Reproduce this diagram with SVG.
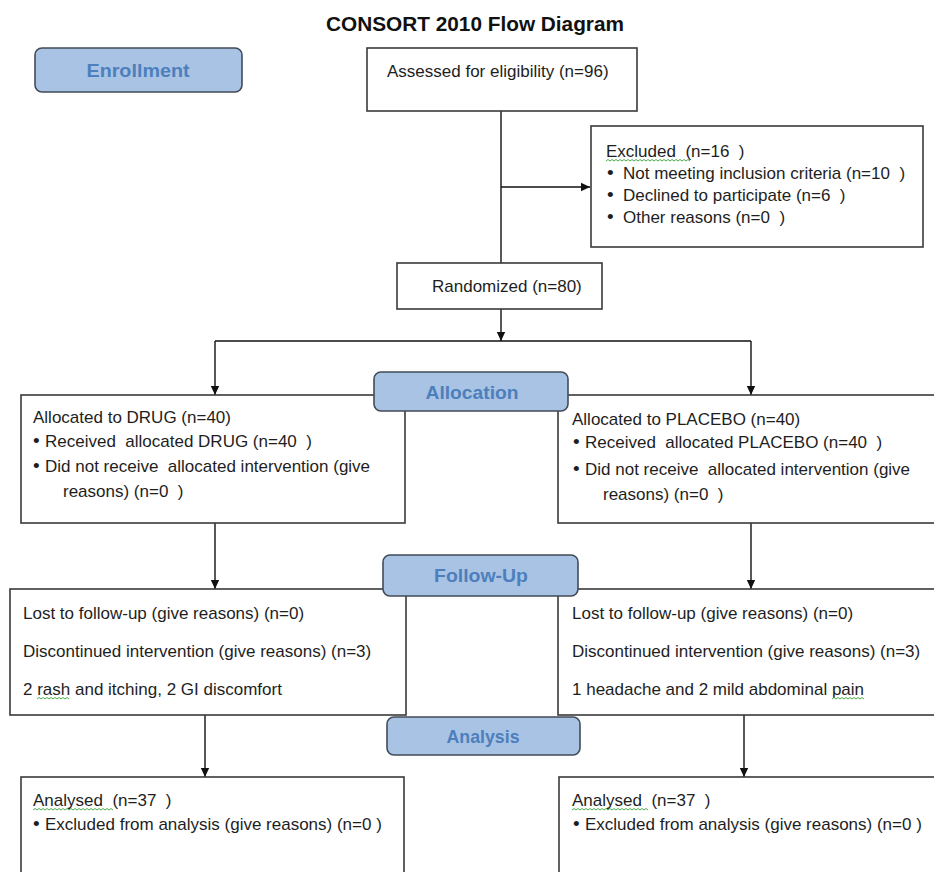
<svg xmlns="http://www.w3.org/2000/svg" width="934" height="872" viewBox="0 0 934 872">
<defs>
<style>
.box{fill:#fff;stroke:#3a3a3a;stroke-width:1.6}
.lab rect{fill:#a9c3e4;stroke:#424b57;stroke-width:1.6}
.lab text{font-family:"Liberation Sans",Arial,sans-serif;font-weight:bold;fill:#4d7fbc;text-anchor:middle}
.t{font-family:"Liberation Sans",Arial,sans-serif;font-size:17px;fill:#1e1e1e;white-space:pre}
.b{font-family:"Liberation Sans",Arial,sans-serif;font-size:19px;fill:#1e1e1e}
.c{stroke:#111;stroke-width:1.4;fill:none}
.sq{stroke:#4cae4c;stroke-width:1;fill:none}
</style>
<marker id="ah" markerWidth="10" markerHeight="10" refX="9" refY="5" orient="auto" markerUnits="userSpaceOnUse">
<path d="M0,0.8 L9,5 L0,9.2 Z" fill="#111"/>
</marker>
</defs>
<rect width="934" height="872" fill="#fff"/>
<text id="title" x="475" y="31" text-anchor="middle" font-family="'Liberation Sans',Arial,sans-serif" font-weight="bold" font-size="20" textLength="298" lengthAdjust="spacingAndGlyphs" fill="#111">CONSORT 2010 Flow Diagram</text>

<g id="connectors">
<line class="c" x1="501" y1="111" x2="501" y2="263" stroke="#444" stroke-width="1.6"/>
<line class="c" x1="501" y1="187" x2="590" y2="187" marker-end="url(#ah)"/>
<line class="c" x1="501" y1="309" x2="501" y2="341" marker-end="url(#ah)"/>
<line class="c" x1="215" y1="341" x2="751" y2="341"/>
<line class="c" x1="215" y1="341" x2="215" y2="395" marker-end="url(#ah)"/>
<line class="c" x1="751" y1="341" x2="751" y2="395" marker-end="url(#ah)"/>
<line class="c" x1="215" y1="523" x2="215" y2="589" marker-end="url(#ah)"/>
<line class="c" x1="751" y1="523" x2="751" y2="589" marker-end="url(#ah)"/>
<line class="c" x1="205" y1="715" x2="205" y2="777" marker-end="url(#ah)"/>
<line class="c" x1="744" y1="715" x2="744" y2="777" marker-end="url(#ah)"/>
</g>

<g id="assessed">
<rect class="box" x="367" y="48" width="270" height="63"/>
<text class="t" x="387" y="77">Assessed for eligibility (n=96)</text>
</g>

<g id="excluded">
<rect class="box" x="591" y="126" width="332" height="121"/>
<text class="t" x="606" y="157">Excluded  (n=16  )</text>
<text class="b" x="607" y="179">•</text>
<text class="t" x="623" y="179">Not meeting inclusion criteria (n=10  )</text>
<text class="b" x="607" y="201">•</text>
<text class="t" x="623" y="201">Declined to participate (n=6  )</text>
<text class="b" x="607" y="223">•</text>
<text class="t" x="623" y="223">Other reasons (n=0  )</text>
</g>

<g id="randomized">
<rect class="box" x="397" y="263" width="205" height="46"/>
<text class="t" x="432" y="292">Randomized (n=80)</text>
</g>

<g id="alloc-drug">
<rect class="box" x="21" y="395" width="384" height="128"/>
<text class="t" x="33" y="423">Allocated to DRUG (n=40)</text>
<text class="b" x="33" y="447">•</text>
<text class="t" x="45" y="447">Received  allocated DRUG (n=40  )</text>
<text class="b" x="33" y="472">•</text>
<text class="t" x="45" y="472">Did not receive  allocated intervention (give</text>
<text class="t" x="63" y="497">reasons) (n=0  )</text>
</g>

<g id="alloc-placebo">
<rect class="box" x="558" y="395" width="382" height="128"/>
<text class="t" x="572" y="425">Allocated to PLACEBO (n=40)</text>
<text class="b" x="573" y="448">•</text>
<text class="t" x="585" y="448">Received  allocated PLACEBO (n=40  )</text>
<text class="b" x="573" y="475">•</text>
<text class="t" x="585" y="475">Did not receive  allocated intervention (give</text>
<text class="t" x="603" y="500">reasons) (n=0  )</text>
</g>

<g id="followup-drug">
<rect class="box" x="10" y="589" width="396" height="126"/>
<text class="t" x="23" y="619">Lost to follow-up (give reasons) (n=0)</text>
<text class="t" x="23" y="657">Discontinued intervention (give reasons) (n=3)</text>
<text class="t" x="23" y="695">2 rash and itching, 2 GI discomfort</text>
</g>

<g id="followup-placebo">
<rect class="box" x="558" y="589" width="382" height="126"/>
<text class="t" x="572" y="619">Lost to follow-up (give reasons) (n=0)</text>
<text class="t" x="572" y="657">Discontinued intervention (give reasons) (n=3)</text>
<text class="t" x="572" y="695">1 headache and 2 mild abdominal pain</text>
</g>

<g id="analysis-drug">
<rect class="box" x="21" y="777" width="383" height="110"/>
<text class="t" x="33" y="806">Analysed  (n=37  )</text>
<text class="b" x="33" y="830">•</text>
<text class="t" x="45" y="830">Excluded from analysis (give reasons) (n=0 )</text>
</g>

<g id="analysis-placebo">
<rect class="box" x="559" y="777" width="381" height="110"/>
<text class="t" x="572" y="806">Analysed  (n=37  )</text>
<text class="b" x="573" y="830">•</text>
<text class="t" x="585" y="830">Excluded from analysis (give reasons) (n=0 )</text>
</g>

<g id="spellcheck">
<path class="sq" d="M606,161 l2,-1.5 l2,1.5 l2,-1.5 l2,1.5 l2,-1.5 l2,1.5 l2,-1.5 l2,1.5 l2,-1.5 l2,1.5 l2,-1.5 l2,1.5 l2,-1.5 l2,1.5 l2,-1.5 l2,1.5 l2,-1.5 l2,1.5 l2,-1.5 l2,1.5 l2,-1.5 l2,1.5 l2,-1.5 l2,1.5 l2,-1.5 l2,1.5 l2,-1.5 l2,1.5 l2,-1.5 l2,1.5 l2,-1.5 l2,1.5 l2,-1.5 l2,1.5 l2,-1.5 l2,1.5 l2,-1.5 l2,1.5 l2,-1.5 l2,1.5 l2,-1.5 l2,1.5"/>
<path class="sq" d="M37,699 l2,-1.5 l2,1.5 l2,-1.5 l2,1.5 l2,-1.5 l2,1.5 l2,-1.5 l2,1.5 l2,-1.5 l2,1.5 l2,-1.5 l2,1.5 l2,-1.5 l2,1.5 l2,-1.5 l2,1.5"/>
<path class="sq" d="M832,699 l2,-1.5 l2,1.5 l2,-1.5 l2,1.5 l2,-1.5 l2,1.5 l2,-1.5 l2,1.5 l2,-1.5 l2,1.5 l2,-1.5 l2,1.5 l2,-1.5 l2,1.5 l2,-1.5 l2,1.5"/>
<path class="sq" d="M33,810 l2,-1.5 l2,1.5 l2,-1.5 l2,1.5 l2,-1.5 l2,1.5 l2,-1.5 l2,1.5 l2,-1.5 l2,1.5 l2,-1.5 l2,1.5 l2,-1.5 l2,1.5 l2,-1.5 l2,1.5 l2,-1.5 l2,1.5 l2,-1.5 l2,1.5 l2,-1.5 l2,1.5 l2,-1.5 l2,1.5 l2,-1.5 l2,1.5 l2,-1.5 l2,1.5 l2,-1.5 l2,1.5 l2,-1.5 l2,1.5 l2,-1.5 l2,1.5 l2,-1.5 l2,1.5 l2,-1.5 l2,1.5 l2,-1.5 l2,1.5"/>
<path class="sq" d="M572,810 l2,-1.5 l2,1.5 l2,-1.5 l2,1.5 l2,-1.5 l2,1.5 l2,-1.5 l2,1.5 l2,-1.5 l2,1.5 l2,-1.5 l2,1.5 l2,-1.5 l2,1.5 l2,-1.5 l2,1.5 l2,-1.5 l2,1.5 l2,-1.5 l2,1.5 l2,-1.5 l2,1.5 l2,-1.5 l2,1.5 l2,-1.5 l2,1.5 l2,-1.5 l2,1.5 l2,-1.5 l2,1.5 l2,-1.5 l2,1.5 l2,-1.5 l2,1.5 l2,-1.5 l2,1.5 l2,-1.5 l2,1.5"/>
</g>

<g id="enrollment" class="lab">
<rect x="35" y="48" width="207" height="44" rx="7"/>
<text x="138" y="77" font-size="19" textLength="103" lengthAdjust="spacingAndGlyphs">Enrollment</text>
</g>
<g id="allocation" class="lab">
<rect x="374" y="372" width="194" height="39" rx="7"/>
<text x="472" y="399" font-size="19" textLength="93" lengthAdjust="spacingAndGlyphs">Allocation</text>
</g>
<g id="follow-up" class="lab">
<rect x="383" y="555" width="195" height="41" rx="7"/>
<text x="481" y="582" font-size="19" textLength="94" lengthAdjust="spacingAndGlyphs">Follow-Up</text>
</g>
<g id="analysis" class="lab">
<rect x="387" y="717" width="193" height="38" rx="7"/>
<text x="483" y="743" font-size="19" textLength="73" lengthAdjust="spacingAndGlyphs">Analysis</text>
</g>
</svg>
